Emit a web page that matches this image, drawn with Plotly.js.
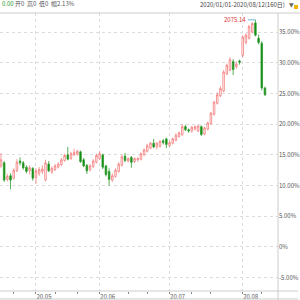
<!DOCTYPE html>
<html><head><meta charset="utf-8">
<script src="https://cdn.plot.ly/plotly-3.0.1.min.js"></script>
<style>html,body{margin:0;padding:0;background:#fff}#c{width:300px;height:300px}</style>
</head><body><div id="c"></div>
<script>
const dates = [
 "2020-04-16","2020-04-17","2020-04-20","2020-04-21","2020-04-22","2020-04-23","2020-04-24","2020-04-27","2020-04-28","2020-04-29","2020-04-30",
 "2020-05-04","2020-05-05","2020-05-06","2020-05-07","2020-05-08","2020-05-11","2020-05-12","2020-05-13","2020-05-14","2020-05-15","2020-05-18","2020-05-19","2020-05-20","2020-05-21","2020-05-22","2020-05-25","2020-05-26","2020-05-27","2020-05-28","2020-05-29",
 "2020-06-01","2020-06-02","2020-06-03","2020-06-04","2020-06-05","2020-06-08","2020-06-09","2020-06-10","2020-06-11","2020-06-12","2020-06-15","2020-06-16","2020-06-17","2020-06-18","2020-06-19","2020-06-22","2020-06-23","2020-06-24","2020-06-25","2020-06-26","2020-06-29","2020-06-30",
 "2020-07-01","2020-07-02","2020-07-03","2020-07-06","2020-07-07","2020-07-08","2020-07-09","2020-07-10","2020-07-13","2020-07-14","2020-07-15","2020-07-16","2020-07-17","2020-07-20","2020-07-21","2020-07-22","2020-07-23","2020-07-24","2020-07-27","2020-07-28","2020-07-29","2020-07-30","2020-07-31",
 "2020-08-03","2020-08-04","2020-08-05","2020-08-06","2020-08-07","2020-08-10","2020-08-11","2020-08-12"
];
const openPct  = [13.2,13.7,11.0,11.6,11.2,12.4,14.0,13.7,13.0,12.4,12.8,11.3,12.0,12.3,10.9,13.5,12.2,12.6,13.0,13.4,14.1,15.0,14.4,15.0,15.1,15.5,14.2,13.3,12.6,13.1,13.8,14.4,15.0,13.2,12.3,10.9,11.5,12.3,13.3,14.8,14.0,14.6,13.9,14.2,14.3,15.0,15.6,16.1,16.9,16.3,16.4,17.3,17.6,16.5,16.9,17.4,18.0,18.3,19.6,19.1,18.9,19.2,18.9,19.6,18.4,19.2,20.1,21.6,23.4,24.6,25.4,28.2,28.8,30.2,29.4,30.3,31.2,33.3,34.0,35.0,36.5,34.0,33.2,25.9];
const highPct  = [15.3,14.0,11.9,12.0,12.8,14.3,14.6,14.0,13.3,13.3,13.0,12.8,13.0,13.3,14.2,14.0,13.1,13.5,13.8,14.5,15.2,16.3,15.5,16.0,15.8,15.7,14.5,13.5,13.5,14.3,15.2,15.6,15.2,13.4,12.8,12.0,12.8,13.8,15.0,15.3,14.6,14.8,14.6,14.6,15.4,16.1,16.8,17.1,17.6,17.1,17.4,17.6,17.8,17.3,17.8,18.5,18.8,20.0,19.9,19.3,19.7,19.8,19.9,19.8,19.6,20.4,22.0,23.8,25.2,26.2,28.8,29.9,30.9,30.6,30.2,30.5,34.5,34.8,36.2,36.6,37.0,34.6,33.5,26.1];
const lowPct   = [12.9,10.6,10.7,9.4,11.0,12.2,13.3,12.6,12.0,11.8,10.8,10.3,11.6,11.9,10.7,12.2,11.9,12.4,12.8,13.2,13.9,14.1,14.2,14.8,14.9,13.7,13.0,11.9,12.3,12.9,13.6,14.2,12.7,11.5,10.0,10.6,11.3,12.1,13.1,13.8,13.8,12.9,13.7,13.9,14.1,14.8,15.4,15.9,16.1,15.9,16.2,16.7,16.1,16.3,16.7,17.2,17.8,18.1,18.9,18.6,18.6,19.0,18.7,18.1,18.2,19.0,19.9,21.4,23.2,24.4,25.2,28.0,28.6,28.0,29.0,29.7,30.9,33.0,33.8,34.8,34.3,33.0,25.5,24.6];
const closePct = [14.2,10.9,11.5,10.9,12.5,13.8,13.7,12.9,12.3,12.9,11.2,12.4,12.6,12.7,13.7,12.4,12.8,13.2,13.5,14.2,14.9,14.3,15.2,15.4,15.6,13.9,13.2,12.4,13.2,14.0,14.9,15.2,13.0,11.8,11.0,11.6,12.5,13.5,14.7,14.1,14.4,13.8,14.4,14.4,15.2,15.8,16.5,16.9,16.3,16.9,17.2,17.0,16.7,17.0,17.6,18.2,18.6,19.6,19.1,18.9,19.5,19.6,19.7,18.3,19.4,20.2,21.8,23.6,24.8,25.8,28.5,29.6,30.5,28.9,29.8,30.1,34.2,34.5,35.9,36.4,34.5,33.3,25.9,24.8];

const monthTickDates = ["2020-05-04","2020-06-01","2020-07-01","2020-08-03"];
const monthTickText  = ["20.05","20.06","20.07","20.08"];
const minorTickDates = ["2020-04-22","2020-05-12","2020-05-21","2020-06-12","2020-06-22","2020-07-10","2020-07-20","2020-08-11"];
const yTickVals = [-5,0,5,10,15,20,25,30,35];
const yTickText = ["-5.00%","0%","5.00%","10.00%","15.00%","20.00%","25.00%","30.00%","35.00%"];
const peakLabel = "2075.14";
const peakDate = "2020-08-07";
const peakHigh = 37.0;
const headerValue = "0.00";
const headerItems = "开0  高0  低0  幅2.13%";
const headerRange = "2020/01/01-2020/08/12(160日)";

const W = 278, H = 278;
const px = x => x / W;
const py = y => (291 - y) / H;
const font = {family: "Noto Sans CJK SC, Noto Sans, sans-serif", size: 6, color: "#555"};

const trace = {
  type: "candlestick",
  x: dates, open: openPct, high: highPct, low: lowPct, close: closePct,
  increasing: {line: {color: "#f47c7c", width: 0.8}, fillcolor: "#ffffff"},
  decreasing: {line: {color: "#2e9a2e", width: 0.8}, fillcolor: "#0a8a0a"},
  whiskerwidth: 0, hoverinfo: "skip"
};

const layout = {
  width: 300, height: 300,
  margin: {l: 0, r: 22, t: 13, b: 9, pad: 0},
  paper_bgcolor: "#fff", plot_bgcolor: "#fff",
  showlegend: false,
  font: font,
  xaxis: {
    type: "category", range: [-0.31, 87.1],
    rangeslider: {visible: false},
    tickmode: "array", tickvals: monthTickDates, ticktext: monthTickText,
    ticklabelposition: "outside right",
    ticks: "outside", ticklen: 2, tickcolor: "#888",
    minor: {tickmode: "array", tickvals: minorTickDates, ticks: "outside", ticklen: 2, tickcolor: "#888", showgrid: false},
    showgrid: true, gridcolor: "#ddd", griddash: "dot", gridwidth: 1,
    showline: false, zeroline: false,
    tickfont: {family: font.family, size: 6, color: "#555"}
  },
  yaxis: {
    side: "right", range: [-7.17, 38.11],
    tickmode: "array", tickvals: yTickVals, ticktext: yTickText,
    ticks: "", showgrid: true, gridcolor: "#ddd", griddash: "dot", gridwidth: 1,
    zeroline: false, showline: false,
    tickfont: {family: font.family, size: 6, color: "#555"}
  },
  shapes: [
    {type: "line", xref: "paper", yref: "paper", x0: 0, x1: px(300), y0: 1, y1: 1, line: {color: "#ccc", width: 1}},
    {type: "line", xref: "paper", yref: "paper", x0: 1, x1: 1, y0: py(300), y1: 1, line: {color: "#ccc", width: 1}},
    {type: "line", xref: "paper", yref: "paper", x0: 0, x1: px(298), y0: 0, y1: 0, line: {color: "#ccc", width: 1}},
    {type: "line", xref: "paper", yref: "paper", x0: 0, x1: px(298), y0: py(299), y1: py(299), line: {color: "#ccc", width: 1}},
    {type: "rect", xref: "paper", yref: "paper", x0: px(294), x1: px(298), y0: py(9), y1: py(5), fillcolor: "#f0b400", line: {width: 0}}
  ],
  annotations: [
    {xref: "paper", yref: "paper", x: 0, y: py(4), xanchor: "left", yanchor: "middle", showarrow: false,
     text: headerValue, font: {family: font.family, size: 6, color: "#2a9a2a"}},
    {xref: "paper", yref: "paper", x: px(13), y: py(4), xanchor: "left", yanchor: "middle", showarrow: false,
     text: headerItems, font: {family: font.family, size: 6, color: "#555"}},
    {xref: "paper", yref: "paper", x: px(287), y: py(4.5), xanchor: "right", yanchor: "middle", showarrow: false,
     text: headerRange, font: {family: font.family, size: 6, color: "#444"}},
    {xref: "paper", yref: "paper", x: px(291), y: py(4.5), xanchor: "center", yanchor: "middle", showarrow: false,
     text: "▼", font: {family: "DejaVu Sans", size: 6, color: "#666"}},
    {x: peakDate, y: peakHigh, xref: "x", yref: "y", text: peakLabel, showarrow: true, arrowhead: 0,
     arrowwidth: 0.8, arrowcolor: "#4aa3d6", ax: -20, ay: 0, font: {family: font.family, size: 6, color: "#e03030"}}
  ]
};

Plotly.newPlot("c", [trace], layout, {staticPlot: true, displayModeBar: false});
</script></body></html>
